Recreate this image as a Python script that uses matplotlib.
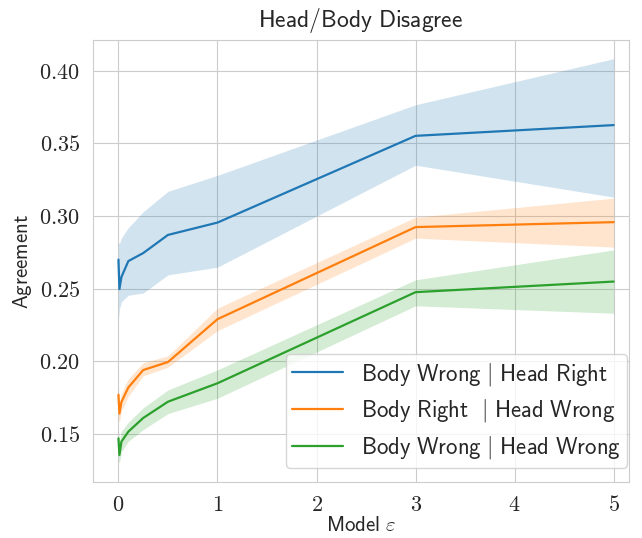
import matplotlib
matplotlib.use("Agg")
import matplotlib.pyplot as plt
import seaborn as sns
import numpy as np
from matplotlib.ticker import FuncFormatter

# --- data ---
eps = [0, 0.01, 0.03, 0.1, 0.25, 0.5, 1, 3, 5]

bw_hr_mean = [0.270, 0.2497, 0.258, 0.269, 0.2745, 0.287, 0.2955, 0.3552, 0.3626]
bw_hr_hi = [0.282, 0.281, 0.285, 0.292, 0.303, 0.317, 0.328, 0.3766, 0.4083]
bw_hr_lo = [0.229, 0.236, 0.241, 0.2455, 0.247, 0.2595, 0.2648, 0.335, 0.313]

br_hw_mean = [0.177, 0.164, 0.172, 0.182, 0.194, 0.1995, 0.229, 0.2924, 0.2958]
br_hw_hi = [0.183, 0.172, 0.178, 0.188, 0.199, 0.2037, 0.2366, 0.2992, 0.3123]
br_hw_lo = [0.160, 0.158, 0.166, 0.176, 0.190, 0.196, 0.2211, 0.2848, 0.2786]

bw_hw_mean = [0.147, 0.1355, 0.1447, 0.1516, 0.161, 0.1722, 0.1849, 0.2476, 0.2549]
bw_hw_hi = [0.152, 0.145, 0.152, 0.158, 0.168, 0.1803, 0.1941, 0.2561, 0.2767]
bw_hw_lo = [0.132, 0.130, 0.138, 0.145, 0.153, 0.164, 0.1746, 0.2382, 0.2331]

labels = [
    r"$\mathsf{Body\ Wrong}\ |\ \mathsf{Head\ Right}$",
    r"$\mathsf{Body\ Right}\ \ |\ \mathsf{Head\ Wrong}$",
    r"$\mathsf{Body\ Wrong}\ |\ \mathsf{Head\ Wrong}$",
]
x_ticks = [0, 1, 2, 3, 4, 5]
y_ticks = [0.15, 0.20, 0.25, 0.30, 0.35, 0.40]

sns.set_style("whitegrid")
plt.rcParams.update({
    "mathtext.fontset": "cm",
    "font.family": ["DejaVu Sans"],
    "axes.edgecolor": "#cccccc",
    "grid.color": "#cccccc",
})

fig, ax = plt.subplots(figsize=(6.42, 5.38), dpi=100)
fig.subplots_adjust(left=0.145, right=0.979, top=0.926, bottom=0.104)

series = [
    (bw_hr_mean, bw_hr_lo, bw_hr_hi),
    (br_hw_mean, br_hw_lo, br_hw_hi),
    (bw_hw_mean, bw_hw_lo, bw_hw_hi),
]
colors = plt.get_cmap("tab10").colors

for (m, lo, hi), lab, c in zip(series, labels, colors):
    ax.fill_between(eps, lo, hi, color=c, alpha=0.2, linewidth=0)
    ax.plot(eps, m, color=c, linewidth=1.6, label=lab)

ax.set_xlim(-0.256, 5.15)
ax.set_ylim(0.1169, 0.4213)
ax.set_xticks(x_ticks)
ax.set_yticks(y_ticks)
ax.xaxis.set_major_formatter(FuncFormatter(lambda v, p: f"${v:g}$"))
ax.yaxis.set_major_formatter(FuncFormatter(lambda v, p: f"${v:.2f}$"))
ax.tick_params(labelsize=16, pad=6)

ax.set_title(r"$\mathsf{Head/Body\ Disagree}$", fontsize=17, pad=9)
ax.set_xlabel(r"$\mathsf{Model}\ \varepsilon$", fontsize=15, labelpad=0)
ax.set_ylabel(r"$\mathsf{Agreement}$", fontsize=15, labelpad=4)

ax.legend(loc="lower right", bbox_to_anchor=(0.998, 0.032), borderaxespad=0,
          fontsize=16.4, handlelength=2.2, handletextpad=0.8, labelspacing=0.42,
          borderpad=0.3, frameon=True, fancybox=True)

fig.savefig("out.png", dpi=100)
